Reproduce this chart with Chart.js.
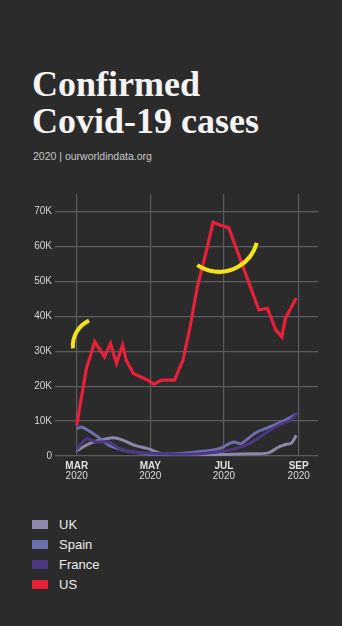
<!DOCTYPE html>
<html>
<head>
<meta charset="utf-8">
<script src="https://cdn.jsdelivr.net/npm/chart.js@4.4.1/dist/chart.umd.min.js"></script>
<style>
  html, body { margin: 0; padding: 0; background: #2b2b2b; }
  body { width: 342px; height: 626px; position: relative; overflow: hidden; font-family: "Liberation Sans", Arial, sans-serif; }
  #title { position: absolute; left: 32px; top: 66px; margin: 0; color: #f4f4f4;
           font-family: "Liberation Serif", "Times New Roman", serif; font-weight: bold;
           font-size: 36px; line-height: 37px; }
  #source { position: absolute; left: 33px; top: 150px; color: #c8c8c8; font-size: 10.5px; line-height: 12px; }
  #chartBox { position: absolute; left: 0; top: 185px; width: 342px; height: 310px; }
  #legend { position: absolute; left: 32px; top: 515px; margin: 0; padding: 0; list-style: none; }
  #legend li { height: 19.8px; display: flex; align-items: center; color: #ececec; font-size: 13px; }
  #legend span.sw { display: inline-block; width: 16px; height: 9px; margin-right: 11px; }
</style>
</head>
<body>
<h1 id="title">Confirmed<br>Covid-19 cases</h1>
<div id="source">2020 | ourworldindata.org</div>
<div id="chartBox"><canvas id="chart"></canvas></div>
<ul id="legend"></ul>
<script>
// Daily confirmed cases, x = days since 1 March 2020
const seriesNames = ['UK', 'Spain', 'France', 'US'];
const seriesColors = ['#8b89a7', '#6d6dac', '#4b3782', '#e8203a'];

const ukDays = [0, 10, 19, 30, 37, 47, 59, 71, 85, 100, 120, 137, 159, 167, 173, 178, 182];
const ukCases = [1500, 3500, 4500, 5200, 4700, 3200, 2100, 600, 300, 300, 400, 600, 900, 2500, 3300, 3700, 5900];

const spainDays = [0, 4, 16, 27, 40, 59, 77, 93, 106, 118, 130, 136, 148, 159, 173, 182];
const spainCases = [7800, 8300, 5900, 3000, 1600, 600, 600, 900, 1400, 2100, 4000, 3500, 6600, 8200, 10300, 12000];

const franceDays = [0, 8, 16, 26, 36, 47, 63, 80, 100, 118, 132, 143, 156, 167, 177, 183];
const franceCases = [1800, 4900, 4000, 4000, 2100, 1100, 800, 500, 600, 1200, 2100, 3500, 6400, 8800, 10200, 12400];

const usDays = [0, 8, 15, 23, 28, 33, 38, 41, 47, 59, 64, 70, 81, 88, 94, 100, 107, 113, 118, 126, 151, 158, 165, 170, 173, 182];
const usCases = [8800, 25000, 32700, 28400, 32200, 26500, 31800, 27400, 23600, 21700, 20500, 21700, 21700, 27400, 37000, 48500, 58000, 66900, 66200, 65300, 41800, 42300, 36100, 34100, 39400, 45200];

// Axis ticks
const monthDays = [0, 61, 122, 184];
const monthLabels = ['MAR', 'MAY', 'JUL', 'SEP'];
const yearLabel = '2020';
const yTicks = [0, 10000, 20000, 30000, 40000, 50000, 60000, 70000];

// Yellow highlight arcs, anchored at (day, cases); angles in degrees
const arcDays = [20, 118];
const arcCases = [31500, 63900];
const arcRadii = [28, 39];
const arcStart = [175, 15];
const arcEnd = [245, 124];

const toPoints = (xs, ys) => xs.map((x, i) => ({ x: x, y: ys[i] }));
const seriesData = [
  toPoints(ukDays, ukCases),
  toPoints(spainDays, spainCases),
  toPoints(franceDays, franceCases),
  toPoints(usDays, usCases)
];

const datasets = seriesNames.map((name, i) => ({
  label: name,
  data: seriesData[i],
  borderColor: seriesColors[i],
  backgroundColor: seriesColors[i],
  borderWidth: i === 3 ? 3.2 : 3,
  pointRadius: 0,
  tension: i === 3 ? 0 : 0.3,
  borderJoinStyle: 'miter',
  order: i === 3 ? 0 : 3 - i
}));

const arcPlugin = {
  id: 'highlightArcs',
  afterDatasetsDraw(chart) {
    const { ctx, scales } = chart;
    ctx.save();
    ctx.strokeStyle = '#f3e31b';
    ctx.lineWidth = 4;
    ctx.lineCap = 'butt';
    arcDays.forEach((d, i) => {
      const cx = scales.x.getPixelForValue(d);
      const cy = scales.y.getPixelForValue(arcCases[i]);
      ctx.beginPath();
      ctx.arc(cx, cy, arcRadii[i], arcStart[i] * Math.PI / 180, arcEnd[i] * Math.PI / 180);
      ctx.stroke();
    });
    ctx.restore();
  }
};

const monthTicks = () => monthDays.map(v => ({ value: v }));

new Chart(document.getElementById('chart'), {
  type: 'line',
  data: { datasets: datasets },
  options: {
    responsive: true,
    maintainAspectRatio: false,
    animation: false,
    layout: { padding: { top: 9, right: 24, left: 0, bottom: 0 } },
    plugins: { legend: { display: false }, tooltip: { enabled: false } },
    scales: {
      x: {
        type: 'linear',
        min: -18,
        max: 200,
        afterBuildTicks: s => { s.ticks = monthTicks(); },
        afterFit: s => { s.height = 13; },
        grid: { color: '#5d5d5d', lineWidth: 1.2, drawTicks: false },
        border: { display: false },
        ticks: {
          padding: 4,
          color: '#e0e0e0',
          font: { family: 'Liberation Sans', size: 10, weight: 'bold' },
          callback: v => monthLabels[monthDays.indexOf(v)],
          maxRotation: 0
        }
      },
      x2: {
        type: 'linear',
        position: 'bottom',
        min: -18,
        max: 200,
        afterBuildTicks: s => { s.ticks = monthTicks(); },
        afterFit: s => { s.height = 26; },
        grid: { display: false, drawTicks: false },
        border: { display: false },
        ticks: {
          padding: 1,
          color: '#dcdcdc',
          font: { family: 'Liberation Sans', size: 10 },
          callback: () => yearLabel,
          maxRotation: 0
        }
      },
      y: {
        min: 0,
        max: 75000,
        afterBuildTicks: s => { s.ticks = yTicks.map(v => ({ value: v })); },
        afterFit: s => { s.width = 55; },
        grid: { color: '#5d5d5d', lineWidth: 1.2, drawTicks: false },
        border: { display: false },
        ticks: {
          padding: 3,
          color: '#d4d4d4',
          font: { family: 'Liberation Sans', size: 10 },
          callback: v => v === 0 ? '0' : (v / 1000) + 'K'
        }
      }
    }
  },
  plugins: [arcPlugin]
});

// Legend built from the same series arrays
const legend = document.getElementById('legend');
seriesNames.forEach((name, i) => {
  const li = document.createElement('li');
  const sw = document.createElement('span');
  sw.className = 'sw';
  sw.style.background = seriesColors[i];
  li.appendChild(sw);
  li.appendChild(document.createTextNode(name));
  legend.appendChild(li);
});
</script>
</body>
</html>
